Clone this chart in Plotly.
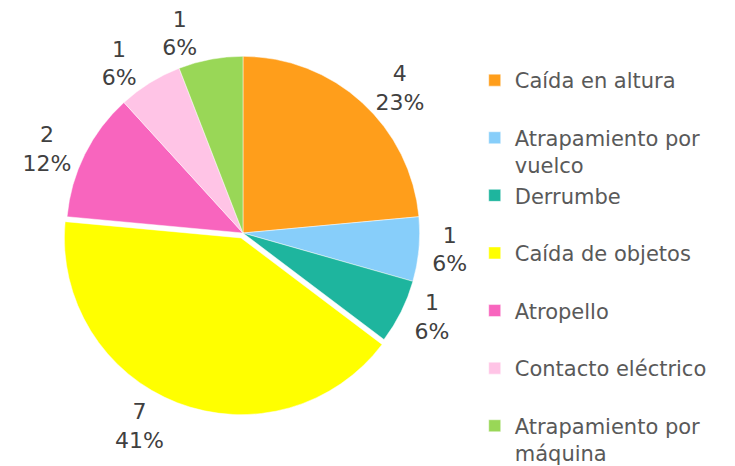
import plotly.graph_objects as go

categories = ["Caída en altura", "Atrapamiento por<br>vuelco", "Derrumbe", "Caída de objetos",
              "Atropello", "Contacto eléctrico", "Atrapamiento por<br>máquina"]
values = [4, 1, 1, 7, 2, 1, 1]
pct_labels = ["23%", "6%", "6%", "41%", "12%", "6%", "6%"]
colors = ["#FF9E1B", "#87CEFA", "#1EB59E", "#FFFF00", "#F865BE", "#FFC4E6", "#99D757"]
pulls = [0, 0, 0, 0.03, 0, 0, 0]

# pad single-line legend entries so every entry occupies two lines
legend_labels = [c if "<br>" in c else c + "<br> " for c in categories]

FONT = "DejaVu Sans, Verdana, sans-serif"
DOMAIN = dict(x=[0.0721, 0.5673], y=[0.1266, 0.9077])
LABEL_FONT = dict(family=FONT, size=22, color="#404040")

n = len(values)
# the last slice's label is drawn by a transparent overlay pie so that it is
# placed independently of its neighbour's label (as in the reference)
main_pos = ["outside"] * (n - 1) + ["none"]
overlay_pos = ["none"] * (n - 1) + ["outside"]

fig = go.Figure()
fig.add_trace(go.Pie(
    labels=legend_labels,
    values=values,
    text=pct_labels,
    sort=False,
    direction="clockwise",
    rotation=0,
    pull=pulls,
    marker=dict(colors=colors, line=dict(color="rgba(255,255,255,0.6)", width=0.8)),
    texttemplate="%{value}<br>%{text}",
    textposition=main_pos,
    outsidetextfont=LABEL_FONT,
    hoverinfo="label+value+percent",
    domain=DOMAIN,
    automargin=False,
))
fig.add_trace(go.Pie(
    labels=legend_labels,
    values=values,
    text=pct_labels,
    sort=False,
    direction="clockwise",
    rotation=0,
    pull=pulls,
    marker=dict(colors=["rgba(0,0,0,0)"] * n, line=dict(width=0)),
    texttemplate="%{value}<br>%{text}",
    textposition=overlay_pos,
    outsidetextfont=LABEL_FONT,
    hoverinfo="skip",
    showlegend=False,
    domain=DOMAIN,
    automargin=False,
))

fig.update_layout(
    width=735, height=466,
    margin=dict(l=0, r=0, t=0, b=0),
    paper_bgcolor="white",
    plot_bgcolor="white",
    font=dict(family=FONT, size=21, color="#595959"),
    legend=dict(x=0.635, y=0.8648, xanchor="left", yanchor="top", valign="top",
                bgcolor="rgba(0,0,0,0)", font=dict(family=FONT, size=21, color="#595959"),
                itemclick=False),
    showlegend=True,
)

fig.write_html("out.html")
